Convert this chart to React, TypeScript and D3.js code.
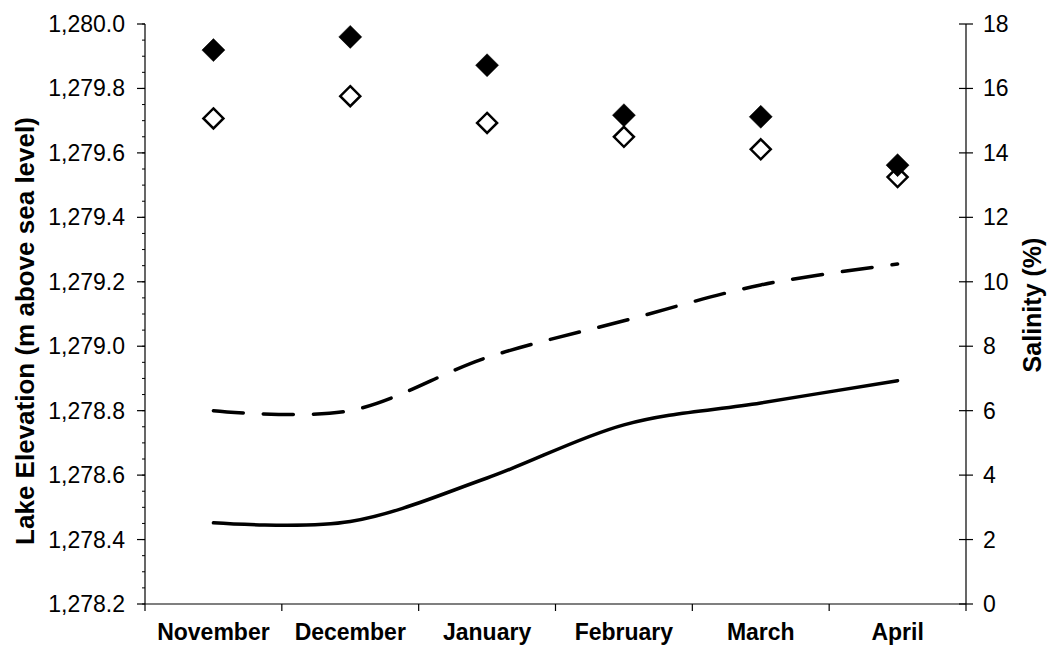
import React from "react";
import * as d3 from "d3";

const months = ["November", "December", "January", "February", "March", "April"];
// Lake elevation (left axis), two smoothed lines
const elevationSolid = [1278.452, 1278.456, 1278.591, 1278.756, 1278.824, 1278.893];
const elevationDashed = [1278.8, 1278.8, 1278.965, 1279.079, 1279.19, 1279.255];
// Salinity (right axis), diamonds
const salinityFilled = [17.19, 17.6, 16.72, 15.17, 15.12, 13.62];
const salinityOpen = [15.07, 15.76, 14.93, 14.5, 14.11, 13.25];

const leftTicks = [1278.2, 1278.4, 1278.6, 1278.8, 1279.0, 1279.2, 1279.4, 1279.6, 1279.8, 1280.0];
const rightTicks = [0, 2, 4, 6, 8, 10, 12, 14, 16, 18];

const W = 1049;
const H = 645;
const L = 145;
const R = 966;
const T = 24;
const B = 604;
const FONT = "Arial, 'Liberation Sans', sans-serif";

export default function App() {
  const x = d3.scaleBand<string>().domain(months).range([L, R]).padding(0);
  const yL = d3.scaleLinear().domain([1278.2, 1280.0]).range([B, T]);
  const yR = d3.scaleLinear().domain([0, 18]).range([B, T]);
  const fmt = d3.format(",.1f");
  const cx = (m: string) => (x(m) as number) + x.bandwidth() / 2;

  const line = d3
    .line<number>()
    .x((_, i) => cx(months[i]))
    .y((d) => yL(d))
    .curve(d3.curveCardinal.tension(0));

  const minorTicks = d3.range(0, 37).map((i) => 1278.2 + i * 0.05);
  const bounds = d3.range(0, months.length + 1).map((i) => L + i * x.bandwidth());

  const diamond = (px: number, py: number, r: number) =>
    `M${px},${py - r}L${px + r},${py}L${px},${py + r}L${px - r},${py}Z`;

  return (
    <svg
      width={W}
      height={H}
      style={{ position: "absolute", left: 0, top: 0, background: "#fff" }}
      fontFamily={FONT}
    >
      <rect x={0} y={0} width={W} height={H} fill="#fff" />
      {/* axes lines */}
      <line x1={L} x2={L} y1={T} y2={B} stroke="#000" strokeWidth={1.2} />
      <line x1={R} x2={R} y1={T} y2={B} stroke="#000" strokeWidth={1.2} />
      <line x1={L} x2={R} y1={B} y2={B} stroke="#000" strokeWidth={1.2} />

      {/* left minor ticks */}
      {minorTicks.map((v, i) => (
        <line key={"mn" + i} x1={L - 3} x2={L} y1={yL(v)} y2={yL(v)} stroke="#000" strokeWidth={1} />
      ))}
      {/* left major ticks + labels */}
      {leftTicks.map((v) => (
        <g key={"lt" + v}>
          <line x1={L - 8} x2={L} y1={yL(v)} y2={yL(v)} stroke="#000" strokeWidth={1.2} />
          <text x={125} y={yL(v)} dy="0.35em" textAnchor="end" fontSize={23} fill="#000">
            {fmt(v)}
          </text>
        </g>
      ))}
      {/* right ticks + labels */}
      {rightTicks.map((v) => (
        <g key={"rt" + v}>
          <line x1={R - 7} x2={R + 7} y1={yR(v)} y2={yR(v)} stroke="#000" strokeWidth={1.2} />
          <text x={983} y={yR(v)} dy="0.35em" textAnchor="start" fontSize={23} fill="#000">
            {v}
          </text>
        </g>
      ))}
      {/* x ticks */}
      {bounds.map((b, i) => (
        <line key={"xt" + i} x1={b} x2={b} y1={B} y2={B + 7} stroke="#000" strokeWidth={1.2} />
      ))}
      {months.map((m) => (
        <text key={m} x={cx(m)} y={640} textAnchor="middle" fontSize={23} fontWeight="bold" fill="#000">
          {m}
        </text>
      ))}

      {/* axis titles */}
      <text
        transform={`translate(34,331) rotate(-90)`}
        textAnchor="middle"
        fontSize={26}
        fontWeight="bold"
        fill="#000"
      >
        Lake Elevation (m above sea level)
      </text>
      <text
        transform={`translate(1041,305) rotate(-90)`}
        textAnchor="middle"
        fontSize={25}
        fontWeight="bold"
        fill="#000"
      >
        Salinity (%)
      </text>

      {/* lines */}
      <path d={line(elevationSolid) || ""} fill="none" stroke="#000" strokeWidth={3.5} strokeLinecap="round" />
      <path
        d={line(elevationDashed) || ""}
        fill="none"
        stroke="#000"
        strokeWidth={3.5}
        strokeLinecap="round"
        strokeDasharray="30 20"
      />

      {/* diamonds */}
      {salinityOpen.map((v, i) => (
        <path key={"o" + i} d={diamond(cx(months[i]), yR(v), 10)} fill="#fff" stroke="#000" strokeWidth={2.5} />
      ))}
      {salinityFilled.map((v, i) => (
        <path key={"f" + i} d={diamond(cx(months[i]), yR(v), 11.5)} fill="#000" stroke="#000" strokeWidth={0.5} />
      ))}
    </svg>
  );
}
